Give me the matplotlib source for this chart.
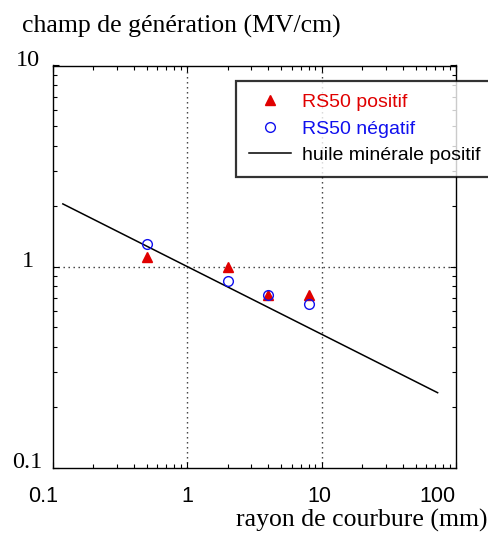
import numpy as np
import matplotlib
matplotlib.use("Agg")
from matplotlib import pyplot as plt
from matplotlib import transforms

# data
rayon = [0.5, 2, 4, 8]
rs50_pos = [1.12, 1.0, 0.72, 0.72]
rs50_neg = [1.30, 0.85, 0.72, 0.65]
huile_x = [0.119, 73.0]
huile_y = [2.05, 0.236]

x_ticks = [0.1, 1, 10, 100]
x_tick_labels = ["0.1", "1", "10", "100"]
y_ticks = [0.1, 1, 10]
y_tick_labels = ["0.1", "1", "10"]

SERIF = ["Liberation Serif", "DejaVu Serif"]
SANS = ["Liberation Sans", "DejaVu Sans"]
DPI = 100

fig = plt.figure(figsize=(4.89, 5.38), dpi=DPI)
W, H = 489, 538
ax = fig.add_axes([52.7 / W, 1 - 467.7 / H, (456 - 52.7) / W, (467.7 - 65.5) / H])

ax.set_xscale("log")
ax.set_yscale("log")
ax.set_xlim(0.1, 100)
ax.set_ylim(0.1, 10)

# dotted grid at inner decades only
for xv in [1, 10]:
    ax.axvline(xv, color="#333333", lw=1.0, dashes=(1, 2.6), zorder=1)
ax.axhline(1, color="#333333", lw=1.0, dashes=(1, 2.6), zorder=1)

ax.plot(huile_x, huile_y, color="black", lw=1.1, label="huile minérale positif", zorder=2)
ax.plot(rayon, rs50_pos, ls="none", marker="^", ms=7.5, color="#e00000",
        mec="#e00000", label="RS50 positif", zorder=3)
ax.plot(rayon, rs50_neg, ls="none", marker="o", ms=7, mfc="none", mec="#1010ee",
        mew=1.0, label="RS50 négatif", zorder=4)

for s in ax.spines.values():
    s.set_linewidth(1.0)

ax.tick_params(which="both", direction="in", top=True, right=True, width=0.8)
ax.tick_params(which="major", length=4.5)
ax.tick_params(which="minor", length=3)

ax.set_xticks(x_ticks)
ax.set_xticklabels([])
ax.set_yticks(y_ticks)
ax.set_yticklabels([])

# x tick labels (sans) with the end ones pulled inside like the original
xoff = [-10, 0, -2, 0]
xha = ["center", "center", "center", "right"]
for xv, txt, dx, ha in zip(x_ticks, x_tick_labels, xoff, xha):
    tr = transforms.blended_transform_factory(ax.transData, ax.transAxes)
    tr = tr + transforms.ScaledTranslation(dx / DPI, -34.5 / DPI, fig.dpi_scale_trans)
    ax.text(xv, 0, txt, transform=tr, ha=ha, va="baseline", fontsize=15.5, family=SANS)

# y tick labels (serif), centred in the left margin, baseline on the tick
for yv, txt in zip(y_ticks, y_tick_labels):
    tr = transforms.blended_transform_factory(ax.transAxes, ax.transData)
    tr = tr + transforms.ScaledTranslation(-25 / DPI, 0, fig.dpi_scale_trans)
    ax.text(0, yv, txt, transform=tr, ha="center", va="baseline", fontsize=17.5, family=SERIF)

fig.text(22 / W, 1 - 33 / H, "champ de génération (MV/cm)", family=SERIF,
         fontsize=18.5, ha="left", va="baseline")
fig.text(488 / W, 1 - 527 / H, "rayon de courbure (mm)", family=SERIF,
         fontsize=18.5, ha="right", va="baseline")

handles, labels = ax.get_legend_handles_labels()
order = [1, 2, 0]
leg = ax.legend([handles[i] for i in order], [labels[i] for i in order],
                loc="upper left", bbox_to_anchor=(236 / W, 1 - 81 / H),
                bbox_transform=fig.transFigure, borderaxespad=0,
                prop={"family": SANS, "size": 14}, frameon=True, fancybox=False,
                labelcolor=["#e00000", "#1010ee", "black"], handlelength=2.2,
                handletextpad=0.55, borderpad=0.65, labelspacing=0.45, numpoints=1)
leg.get_frame().set_edgecolor("black")
leg.get_frame().set_linewidth(1.6)
leg.set_zorder(5)
leg.set_clip_on(False)

fig.savefig("out.png", dpi=DPI)
